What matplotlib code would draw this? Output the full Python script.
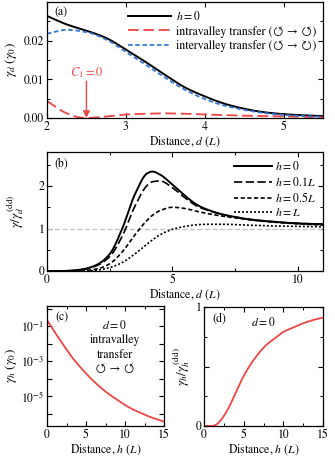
import numpy as np
import matplotlib
matplotlib.use("Agg")
import matplotlib.pyplot as plt
from matplotlib.ticker import MultipleLocator, FixedLocator, FixedFormatter, NullFormatter

plt.rcParams['font.family'] = ['STIXGeneral', 'DejaVu Sans']
plt.rcParams['mathtext.fontset'] = 'stix'
plt.rcParams['font.size'] = 8.5
plt.rcParams['axes.linewidth'] = 0.9

# ---------------- data ----------------
# panel (a)
d_a = [2.0, 2.25, 2.5, 2.75, 3.0, 3.25, 3.5, 3.75, 4.0, 4.25, 4.5, 4.75, 5.0, 5.25, 5.5]
gam_h0 = [0.0264, 0.0242, 0.0226, 0.0207, 0.0177, 0.0145, 0.0111, 0.0079, 0.0056, 0.0037, 0.0024, 0.0015, 0.0010, 0.0007, 0.0005]
gam_inter = [0.0218, 0.0228, 0.0222, 0.0203, 0.0171, 0.0138, 0.0104, 0.0073, 0.0049, 0.0032, 0.0021, 0.0013, 0.0008, 0.0005, 0.0003]
d_intra = [2.0, 2.1, 2.2, 2.3, 2.4, 2.5, 2.6, 2.8, 3.0, 3.25, 3.5, 3.75, 4.0, 4.5, 5.0, 5.5]
gam_intra = [0.0044, 0.0030, 0.0017, 0.0008, 0.0002, 0.0000, 0.0001, 0.0005, 0.0009, 0.0011, 0.0012, 0.0011, 0.0009, 0.0006, 0.0004, 0.0002]

# panel (b)
d_b = [0, 0.5, 1.0, 1.5, 2.0, 2.5, 3.0, 3.5, 4.0, 4.2, 4.5, 5.0, 5.5, 6.0, 6.5, 7.0, 7.5, 8.0, 9.0, 10.0, 11.0]
r_h0 = [0, 0.0, 0.01, 0.05, 0.15, 0.40, 1.00, 1.80, 2.30, 2.34, 2.27, 2.03, 1.77, 1.55, 1.42, 1.33, 1.27, 1.22, 1.16, 1.12, 1.10]
r_h01 = [0, 0.0, 0.01, 0.04, 0.13, 0.34, 0.82, 1.52, 2.02, 2.10, 2.12, 1.96, 1.72, 1.52, 1.41, 1.33, 1.27, 1.22, 1.16, 1.12, 1.10]
r_h05 = [0, 0.0, 0.0, 0.01, 0.05, 0.17, 0.45, 0.85, 1.20, 1.31, 1.42, 1.50, 1.47, 1.40, 1.34, 1.29, 1.25, 1.21, 1.15, 1.11, 1.08]
r_hL = [0, 0.0, 0.0, 0.0, 0.02, 0.08, 0.20, 0.40, 0.64, 0.73, 0.85, 0.98, 1.05, 1.09, 1.10, 1.10, 1.09, 1.08, 1.06, 1.05, 1.04]

# panel (c)
h_c = [0, 1, 2, 3, 4, 5, 6, 7, 8, 9, 10, 11, 12, 13, 14, 15]
log_gam_h = [-0.65, -1.35, -2.0, -2.65, -3.2, -3.7, -4.15, -4.55, -4.9, -5.2, -5.5, -5.75, -5.95, -6.15, -6.3, -6.45]

# panel (d)
h_d = [0, 0.5, 1.0, 1.5, 2.0, 3.0, 4.0, 5.0, 6.0, 7.0, 8.0, 9.0, 10.0, 11.0, 12.0, 13.0, 14.0, 15.0]
ratio_h = [0, 0, 0.0, 0.01, 0.04, 0.14, 0.28, 0.42, 0.53, 0.62, 0.69, 0.74, 0.79, 0.82, 0.85, 0.875, 0.895, 0.91]

RED = '#f04545'
BLUE = '#3478dc'

def smooth(x, y, n=300):
    x = np.asarray(x, float); y = np.asarray(y, float)
    xs = np.linspace(x.min(), x.max(), n)
    # monotone cubic (PCHIP-like) interpolation for drawing only
    h = np.diff(x); delta = np.diff(y) / h
    m = np.zeros_like(y)
    m[0] = delta[0]; m[-1] = delta[-1]
    for k in range(1, len(x) - 1):
        if delta[k - 1] * delta[k] <= 0:
            m[k] = 0
        else:
            w1 = 2 * h[k] + h[k - 1]; w2 = h[k] + 2 * h[k - 1]
            m[k] = (w1 + w2) / (w1 / delta[k - 1] + w2 / delta[k])
    idx = np.clip(np.searchsorted(x, xs) - 1, 0, len(x) - 2)
    t = (xs - x[idx]) / h[idx]
    h00 = 2 * t**3 - 3 * t**2 + 1; h10 = t**3 - 2 * t**2 + t
    h01 = -2 * t**3 + 3 * t**2; h11 = t**3 - t**2
    ys = h00 * y[idx] + h10 * h[idx] * m[idx] + h01 * y[idx + 1] + h11 * h[idx] * m[idx + 1]
    return xs, ys

def style(ax):
    ax.tick_params(which='both', direction='in', top=True, right=True, labelsize=8.5, pad=2)
    ax.tick_params(which='major', length=3.5, width=0.8)
    ax.tick_params(which='minor', length=2, width=0.7)

YL = 9.5
fig = plt.figure(figsize=(3.35, 4.57), dpi=100)
W, H = 335, 457
def place(l, t, r, b):
    return fig.add_axes([l / W, 1 - b / H, (r - l) / W, (b - t) / H])

# ---------- (a) ----------
ax = place(47, 2, 323, 118)
x, y = smooth(d_a, gam_h0)
ax.plot(x, y, color='black', lw=1.4, label='$h = 0$')
x, y = smooth(d_intra, gam_intra)
ax.plot(x, y, color=RED, lw=1.3, dashes=(6, 2.5), label='intravalley transfer (↺ → ↺)')
x, y = smooth(d_a, gam_inter)
ax.plot(x, y, color=BLUE, lw=1.3, dashes=(2.5, 1.5), label='intervalley transfer (↺ → ↻)')
ax.set_xlim(2, 5.5); ax.set_ylim(0, 0.03)
ax.set_xticks([2, 3, 4, 5]); ax.set_xticklabels(['2', '3', '4', '5'])
ax.set_yticks([0, 0.01, 0.02]); ax.set_yticklabels(['0.00', '0.01', '0.02'])
ax.yaxis.set_minor_locator(MultipleLocator(0.005))
style(ax)
ax.set_xlabel('Distance, $d$ ($L$)', labelpad=1)
ax.set_ylabel(r'$\gamma_d$ ($\gamma_0$)', fontsize=YL)
ax.yaxis.set_label_coords(-0.1, 0.5)
ax.text(0.025, 0.96, '(a)', transform=ax.transAxes, va='top', ha='left')
ax.legend(loc='upper right', frameon=False, fontsize=8.5, handlelength=3.6,
          borderaxespad=0.2, labelspacing=0.2, handletextpad=0.4,
          bbox_to_anchor=(1.0, 0.99))
ax.annotate('', xy=(2.5, 0.0), xytext=(2.5, 0.0095),
            arrowprops=dict(arrowstyle='-|>', color=RED, lw=1.0, mutation_scale=10, shrinkA=0, shrinkB=0))
ax.text(2.5, 0.0118, '$C_1 = 0$', color=RED, ha='center', va='center', fontsize=9)

# ---------- (b) ----------
ax = place(47, 152, 323, 271)
ax.axhline(1, color='#c0c0c0', lw=0.9, dashes=(4, 2))
x, y = smooth(d_b, r_h0)
ax.plot(x, y, color='black', lw=1.4, label='$h = 0$')
x, y = smooth(d_b, r_h01)
ax.plot(x, y, color='black', lw=1.2, dashes=(5, 2), label='$h = 0.1L$')
x, y = smooth(d_b, r_h05)
ax.plot(x, y, color='black', lw=1.2, dashes=(2.5, 1.5), label='$h = 0.5L$')
x, y = smooth(d_b, r_hL)
ax.plot(x, y, color='black', lw=1.2, dashes=(1.2, 1.2), label='$h = L$')
ax.set_xlim(0, 11); ax.set_ylim(0, 2.8)
ax.set_xticks([0, 5, 10]); ax.set_yticks([0, 1, 2])
ax.xaxis.set_minor_locator(MultipleLocator(2.5))
ax.yaxis.set_minor_locator(MultipleLocator(0.5))
style(ax)
ax.set_xlabel('Distance, $d$ ($L$)', labelpad=1)
ax.set_ylabel(r'$\gamma/\gamma_d^{\,\rm (dd)}$', fontsize=YL)
ax.yaxis.set_label_coords(-0.075, 0.5)
ax.text(0.025, 0.95, '(b)', transform=ax.transAxes, va='top', ha='left')
ax.legend(loc='upper right', frameon=False, fontsize=8.5, handlelength=3.2,
          borderaxespad=0.2, labelspacing=0.2, handletextpad=0.3,
          bbox_to_anchor=(1.0, 0.99))

# ---------- (c) ----------
ax = place(47, 306, 164, 426)
x, y = smooth(h_c, log_gam_h)
ax.semilogy(x, 10**y, color=RED, lw=1.3)
ax.set_xlim(0, 15); ax.set_ylim(10**-6.7, 10**0.15)
ax.set_xticks([0, 5, 10, 15])
ax.xaxis.set_minor_locator(MultipleLocator(2.5))
dec = [10.0**k for k in range(-7, 1)]
ax.yaxis.set_major_locator(FixedLocator(dec))
ax.yaxis.set_major_formatter(FixedFormatter(['', '', '$10^{-5}$', '', '$10^{-3}$', '', '$10^{-1}$', '']))
ax.yaxis.set_minor_formatter(NullFormatter())
ax.yaxis.set_minor_locator(FixedLocator([]))
style(ax)
ax.set_xlabel('Distance, $h$ ($L$)', labelpad=1)
ax.set_ylabel(r'$\gamma_h$ ($\gamma_0$)', fontsize=YL)
ax.yaxis.set_label_coords(-0.24, 0.5)
ax.text(0.07, 0.95, '(c)', transform=ax.transAxes, va='top', ha='left')
ax.text(0.58, 0.895, '$d = 0$\nintravalley\ntransfer\n↺ → ↺', transform=ax.transAxes,
        ha='center', va='top', linespacing=1.3)

# ---------- (d) ----------
ax = place(204, 307, 323, 426)
x, y = smooth(h_d, ratio_h)
ax.plot(x, y, color=RED, lw=1.3)
ax.set_xlim(0, 15); ax.set_ylim(0, 1)
ax.set_xticks([0, 5, 10, 15])
ax.set_yticks([0, 0.5, 1]); ax.set_yticklabels(['0', '', '1'])
ax.xaxis.set_minor_locator(MultipleLocator(2.5))
ax.yaxis.set_minor_locator(MultipleLocator(0.25))
style(ax)
ax.set_xlabel('Distance, $h$ ($L$)', labelpad=1)
ax.set_ylabel(r'$\gamma_h/\gamma_h^{\,\rm (dd)}$', fontsize=YL)
ax.yaxis.set_label_coords(-0.1, 0.5)
ax.text(0.07, 0.95, '(d)', transform=ax.transAxes, va='top', ha='left')
ax.text(0.5, 0.87, '$d = 0$', transform=ax.transAxes, ha='center', va='center')

fig.savefig('out.png', dpi=100)
